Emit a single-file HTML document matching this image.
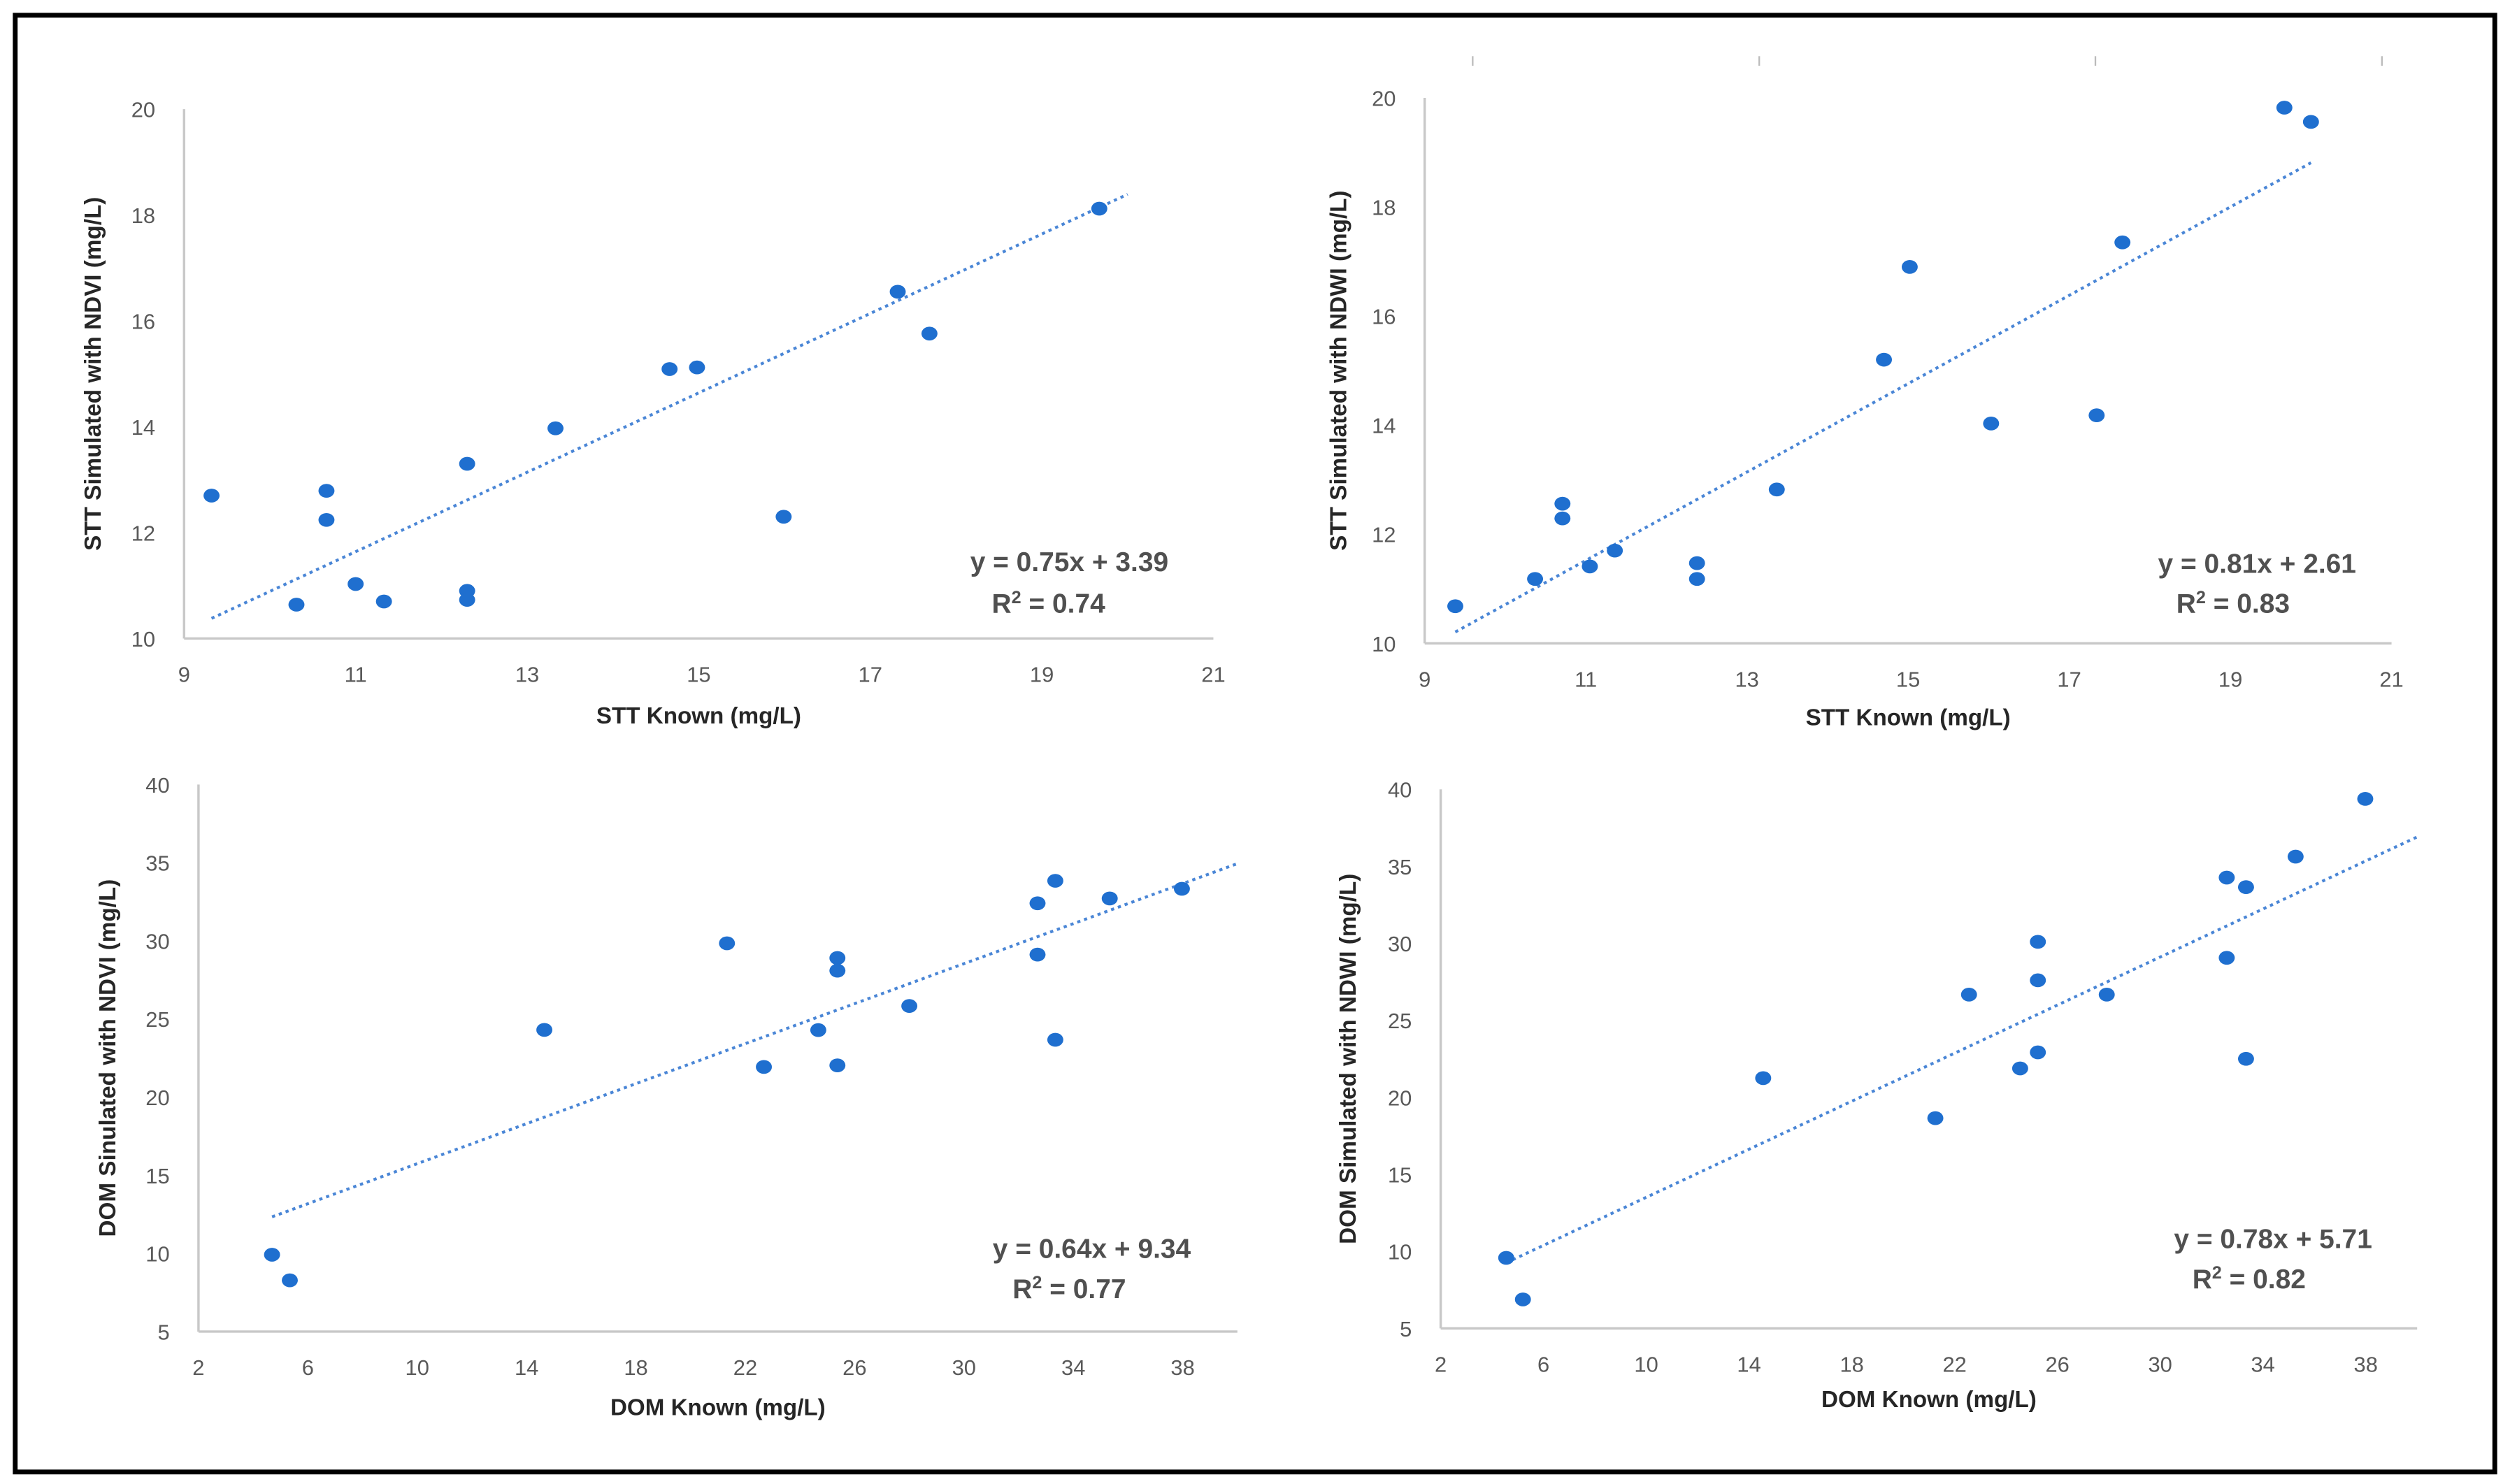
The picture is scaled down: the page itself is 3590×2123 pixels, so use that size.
<!DOCTYPE html>
<html><head><meta charset="utf-8"><style>
html,body{margin:0;padding:0;background:#fff;}
svg{display:block;}
.tk{font-family:"Liberation Sans",sans-serif;font-size:13.5px;fill:#595959;}
.ti{font-family:"Liberation Sans",sans-serif;font-size:14.5px;font-weight:bold;fill:#262626;}
.eq{font-family:"Liberation Sans",sans-serif;font-size:17px;font-weight:bold;fill:#505050;}
</style></head><body>
<svg id="root" width="3590" height="2123" viewBox="0 0 1568 925" preserveAspectRatio="none" xmlns="http://www.w3.org/2000/svg">
<rect x="9.5" y="9.5" width="1549" height="908" fill="#fff" stroke="#000" stroke-width="3"/>
<g stroke="#bbb" stroke-width="1">
<line x1="920" y1="35" x2="920" y2="41"/><line x1="1099" y1="35" x2="1099" y2="41"/><line x1="1309" y1="35" x2="1309" y2="41"/><line x1="1488" y1="35" x2="1488" y2="41"/>
</g>
</svg>
<script>
// Panel A: STT vs NDVI
const sttKnownA = [9.32,10.31,10.66,10.66,11.0,11.33,12.3,12.3,12.3,13.33,14.66,14.98,15.99,17.32,17.69,19.67];
const sttNdvi   = [12.7,10.64,12.79,12.24,11.03,10.7,13.3,10.9,10.73,13.97,15.09,15.12,12.3,16.55,15.76,18.12];
// Panel B: STT vs NDWI
const sttKnownB = [9.38,10.37,10.71,10.71,11.05,11.36,12.38,12.38,13.37,14.7,15.02,16.03,17.34,17.66,19.67,20.0];
const sttNdwi   = [10.68,11.18,12.56,12.29,11.41,11.7,11.47,11.18,12.82,15.2,16.9,14.03,14.18,17.35,19.82,19.56];
// Panel C: DOM vs NDVI
const domKnownC = [4.69,5.34,14.65,21.33,22.68,24.67,25.37,25.37,25.37,28.0,32.69,32.69,33.34,33.34,35.33,37.97];
const domNdvi   = [9.92,8.28,24.3,29.84,21.93,24.29,28.9,28.09,22.03,25.83,32.4,29.12,33.84,23.67,32.71,33.33];
// Panel D: DOM vs NDWI
const domKnownD = [4.55,5.2,14.55,21.25,22.56,24.55,25.24,25.24,25.24,27.92,32.59,32.59,33.34,33.34,35.27,37.98];
const domNdwi   = [9.58,6.88,21.25,18.65,26.67,21.88,30.1,27.6,22.92,26.67,34.27,29.06,33.65,22.5,35.63,39.38];
const xTicksSTT = [9,11,13,15,17,19,21];
const yTicksSTT = [10,12,14,16,18,20];
const xTicksDOM = [2,6,10,14,18,22,26,30,34,38];
const yTicksDOM = [5,10,15,20,25,30,35,40];
const slopes = [0.75,0.81,0.64,0.78];
const intercepts = [3.39,2.61,9.34,5.71];
const eqLabels = ["y = 0.75x + 3.39","y = 0.81x + 2.61","y = 0.64x + 9.34","y = 0.78x + 5.71"];
const r2Labels = ["0.74","0.83","0.77","0.82"];

const NS="http://www.w3.org/2000/svg";
const root=document.getElementById('root');
function mk(tag,attrs,parent){const e=document.createElementNS(NS,tag);for(const k in attrs)e.setAttribute(k,attrs[k]);(parent||root).appendChild(e);return e;}

const panels=[
 {name:'stt-ndvi',xs:sttKnownA,ys:sttNdvi,xt:xTicksSTT,yt:yTicksSTT,x0:9,x1:21,y0:10,y1:20,px0:115,px1:758,py0:398,py1:68,xEnd:758,trEnd:20,
  xt_title:'STT Known (mg/L)',yt_title:'STT Simulated with NDVI (mg/L)',ytx:63,xty:451,eqx:668,eqy:356,r2x:655,r2y:382},
 {name:'stt-ndwi',xs:sttKnownB,ys:sttNdwi,xt:xTicksSTT,yt:yTicksSTT,x0:9,x1:21,y0:10,y1:20,px0:890,px1:1494,py0:401,py1:61,xEnd:1494,trEnd:20,
  xt_title:'STT Known (mg/L)',yt_title:'STT Simulated with NDWI (mg/L)',ytx:841,xty:452,eqx:1410,eqy:357,r2x:1395,r2y:382},
 {name:'dom-ndvi',xs:domKnownC,ys:domNdvi,xt:xTicksDOM,yt:yTicksDOM,x0:2,x1:40,y0:5,y1:40,px0:124,px1:773,py0:830,py1:489,xEnd:773,trEnd:40,
  xt_title:'DOM Known (mg/L)',yt_title:'DOM Sinulated with NDVI (mg/L)',ytx:72,xty:882,eqx:682,eqy:784,r2x:668,r2y:809},
 {name:'dom-ndwi',xs:domKnownD,ys:domNdwi,xt:xTicksDOM,yt:yTicksDOM,x0:2,x1:40,y0:5,y1:40,px0:900,px1:1510,py0:828,py1:492,xEnd:1510,trEnd:40,
  xt_title:'DOM Known (mg/L)',yt_title:'DOM Simulated with NDWI (mg/L)',ytx:847,xty:877,eqx:1420,eqy:778,r2x:1405,r2y:803}
];

panels.forEach((p,i)=>{
 const sx=v=>p.px0+(v-p.x0)/(p.x1-p.x0)*(p.px1-p.px0);
 const sy=v=>p.py0-(v-p.y0)/(p.y1-p.y0)*(p.py0-p.py1);
 const g=mk('g',{});
 
 
 const ya=mk('line',{x1:p.px0,y1:p.py1,x2:p.px0,y2:p.py0,stroke:'#c8c8c8','stroke-width':1.5},g);
 
 
 const xa=mk('line',{x1:p.px0,y1:p.py0,x2:p.xEnd,y2:p.py0,stroke:'#c8c8c8','stroke-width':1.5},g);
 
 
 p.xt.forEach(t=>{const e=mk('text',{x:sx(t),y:p.py0+27,'text-anchor':'middle',class:'tk'},g);e.textContent=t;
  
  });
 p.yt.forEach(t=>{const e=mk('text',{x:p.px0-18,y:sy(t)+5,'text-anchor':'end',class:'tk'},g);e.textContent=t;
  
  });
 const xt=mk('text',{x:(p.px0+p.xEnd)/2,y:p.xty,'text-anchor':'middle',class:'ti'},g);xt.textContent=p.xt_title;
 
 
 const cy=(p.py0+p.py1)/2;
 const yt=mk('text',{x:p.ytx,y:cy,'text-anchor':'middle',class:'ti',transform:`rotate(-90 ${p.ytx} ${cy})`},g);yt.textContent=p.yt_title;
 
 
 const xmin=Math.min(...p.xs);
 const tl=mk('line',{x1:sx(xmin),y1:sy(slopes[i]*xmin+intercepts[i]),x2:sx(p.trEnd),y2:sy(slopes[i]*p.trEnd+intercepts[i]),stroke:'#4a86d6','stroke-width':1.8,'stroke-dasharray':'2,2.5'},g);
 
 
 p.xs.forEach((v,k)=>{const c=mk('ellipse',{cx:sx(v),cy:sy(p.ys[k]),rx:5,ry:4.3,fill:'#1f6fcf'},g);
  
  });
 const eq=mk('text',{x:p.eqx,y:p.eqy,'text-anchor':'middle',class:'eq'},g);eq.textContent=eqLabels[i];
 
 
 const r2=mk('text',{x:p.r2x,y:p.r2y,'text-anchor':'middle',class:'eq'},g);
 
 
 r2.innerHTML='R<tspan dy="-6" font-size="11">2</tspan><tspan dy="6"> = '+r2Labels[i]+'</tspan>';
});
</script>
</body></html>
